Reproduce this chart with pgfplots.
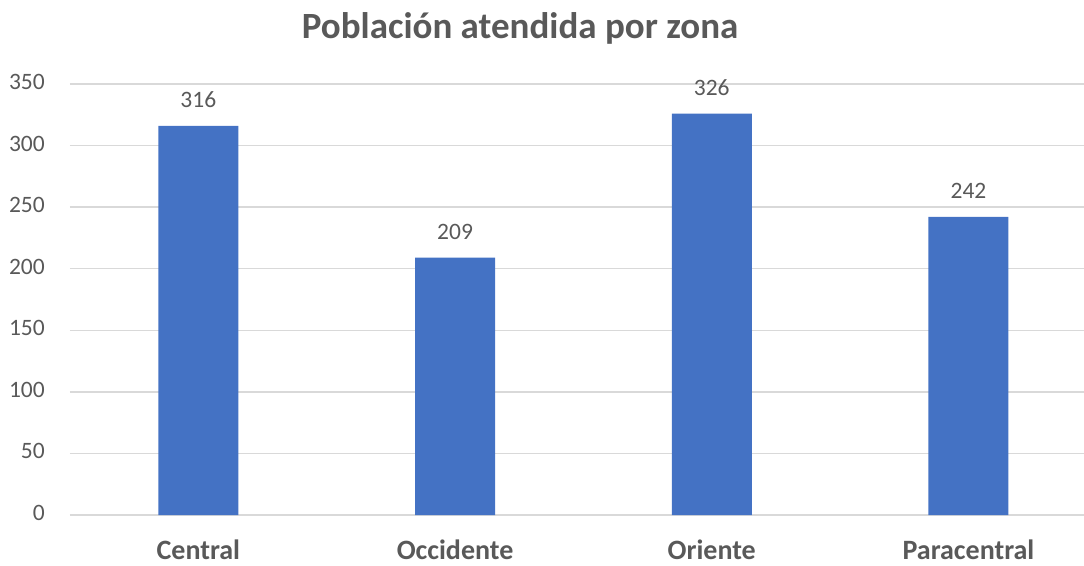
\documentclass[border=0pt]{standalone}
\usepackage{pgfplots}
\pgfplotsset{compat=1.18}
\usepackage{fontspec}
\setmainfont{Carlito}
\definecolor{barc}{HTML}{4472C4}
\definecolor{txt}{HTML}{595959}
\definecolor{gridc}{HTML}{D9D9D9}
\begin{document}
\begin{tikzpicture}[x=1pt,y=1pt]
\path[use as bounding box] (0,0) rectangle (1084,565);
\begin{axis}[
  at={(70pt,50pt)}, anchor=south west,
  scale only axis, width=1014pt, height=431pt,
  xmin=-0.5, xmax=3.45, ymin=0, ymax=350,
  ybar, bar width=80pt,
  /pgf/number format/assume math mode=true,
  xtick={0,1,2,3},
  xticklabels={Central,Occidente,Oriente,Paracentral},
  ytick={0,50,...,350},
  ymajorgrids, grid style={gridc, line width=1.3pt},
  axis line style={draw=none},
  major tick length=0pt,
  yticklabel style={font=\fontsize{23.5}{24}\selectfont, text=txt, anchor=east, inner sep=0pt, xshift=-25pt, yshift=2pt},
  xticklabel style={font=\fontsize{28}{28}\selectfont\bfseries, text=txt, anchor=base, inner sep=0pt, yshift=-44pt},
  nodes near coords,
  nodes near coords style={font=\fontsize{23.5}{24}\selectfont, text=txt, anchor=base, inner sep=0pt, yshift=18pt},
  clip=false,
]
\addplot[fill=barc, draw=none] coordinates {(0,316) (1,209) (2,326) (3,242)};
\end{axis}
\node[font=\fontsize{37}{37}\selectfont\bfseries, text=txt, anchor=base] at (520,526) {Población atendida por zona};
\end{tikzpicture}
\end{document}
